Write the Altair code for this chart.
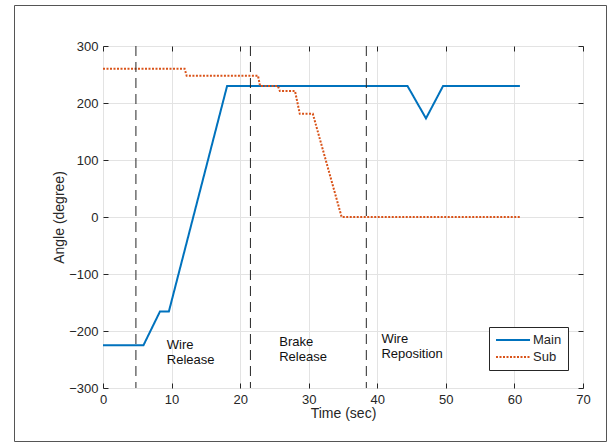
import altair as alt
import pandas as pd

# ---- data ----
main_t = [0, 5.9, 8.3, 9.6, 18.1, 44.4, 47.1, 49.6, 60.8]
main_v = [-225, -225, -166, -166, 230, 230, 173, 230, 230]

sub_t = [0, 11.9, 12.2, 22.6, 22.9, 25.5, 25.8, 28.0, 28.7, 30.6, 34.8, 60.8]
sub_v = [260, 260, 248, 248, 230, 230, 221, 221, 181, 181, 0, 0]

phase_t = [4.8, 21.5, 38.4]

label_text = ["Wire\nRelease", "Brake\nRelease", "Wire\nReposition"]
label_t = [9.3, 25.7, 40.6]
label_v = [-231, -226, -221]

series_names = ["Main", "Sub"]
series_colors = ["#0072BD", "#D95319"]

x_ticks = [0, 10, 20, 30, 40, 50, 60, 70]
y_ticks = [-300, -200, -100, 0, 100, 200, 300]

# ---- tables ----
rows = []
for i, (t, v) in enumerate(zip(main_t, main_v)):
    rows.append({"t": t, "v": v, "series": "Main", "i": i})
for i, (t, v) in enumerate(zip(sub_t, sub_v)):
    rows.append({"t": t, "v": v, "series": "Sub", "i": i})
df_lines = pd.DataFrame(rows)
df_phase = pd.DataFrame({"t": phase_t})
df_labels = pd.DataFrame({"t": label_t, "v": label_v, "label": label_text})

FONT = "Liberation Sans"
DARK = "#262626"

x_scale = alt.Scale(domain=[0, 70], nice=False, zero=False)
y_scale = alt.Scale(domain=[-300, 300], nice=False, zero=False)

axis_common = dict(
    domain=False, tickSize=5, tickColor=DARK, tickWidth=1, offset=-5,
    labelFont=FONT, labelFontSize=13, labelColor=DARK, labelFlush=False,
    titleFont=FONT, titleFontSize=14, titleColor=DARK, titleFontWeight="normal",
)

legend = alt.Legend(
    title=None, orient="none", legendX=386, legendY=281,
    symbolType="M-1,0H4.67", symbolSize=144, symbolStrokeWidth=2,
    labelOffset=24, labelFont=FONT, labelFontSize=13, labelColor=DARK,
    strokeColor=DARK, fillColor="white", padding=6, rowPadding=3,
)

lines = alt.Chart(df_lines).mark_line(strokeWidth=2).encode(
    x=alt.X("t:Q", scale=x_scale, axis=alt.Axis(
        orient="bottom", title="Time (sec)", values=x_ticks, grid=True,
        gridColor="#e3e3e3", gridWidth=1, labelPadding=5, titlePadding=0,
        **axis_common)),
    y=alt.Y("v:Q", scale=y_scale, axis=alt.Axis(
        orient="left", title="Angle (degree)", values=y_ticks, grid=True,
        gridColor="#e3e3e3", gridWidth=1, labelPadding=5, titlePadding=2,
        **axis_common)),
    color=alt.Color("series:N", scale=alt.Scale(domain=series_names, range=series_colors), legend=legend),
    strokeDash=alt.StrokeDash("series:N", scale=alt.Scale(domain=series_names, range=[[1, 0], [2, 1.5]]), legend=legend),
    order="i:Q",
)

phases = alt.Chart(df_phase).mark_rule(color=DARK, strokeWidth=1, strokeDash=[10, 6]).encode(
    x=alt.X("t:Q", scale=x_scale, axis=alt.Axis(
        orient="top", title=None, values=x_ticks, labels=False, grid=False, **axis_common)),
)

labels = alt.Chart(df_labels).mark_text(
    align="left", baseline="alphabetic", lineBreak="\n", lineHeight=15,
    font=FONT, fontSize=13, color="#111111",
).encode(
    x=alt.X("t:Q", scale=x_scale, axis=None),
    y=alt.Y("v:Q", scale=y_scale, axis=alt.Axis(
        orient="right", title=None, values=y_ticks, labels=False, grid=False, **axis_common)),
    text="label:N",
)

frame = alt.Chart(pd.DataFrame({"a": [0]})).mark_rect(
    fill="transparent", stroke="#555555", strokeWidth=1,
).encode(
    x=alt.value(-88.5), x2=alt.value(503.5), y=alt.value(-40.5), y2=alt.value(395.5),
)

chart = alt.layer(lines, phases, labels, frame).resolve_axis(
    x="independent", y="independent"
).properties(
    width=480, height=342,
    autosize=alt.AutoSizeParams(type="none"),
    padding={"left": 103, "top": 46, "right": 27, "bottom": 57},
    background="white",
).configure_view(stroke=DARK, strokeWidth=1).configure(font=FONT)

chart.save("out.html", embed_options={"renderer": "svg", "actions": False})
